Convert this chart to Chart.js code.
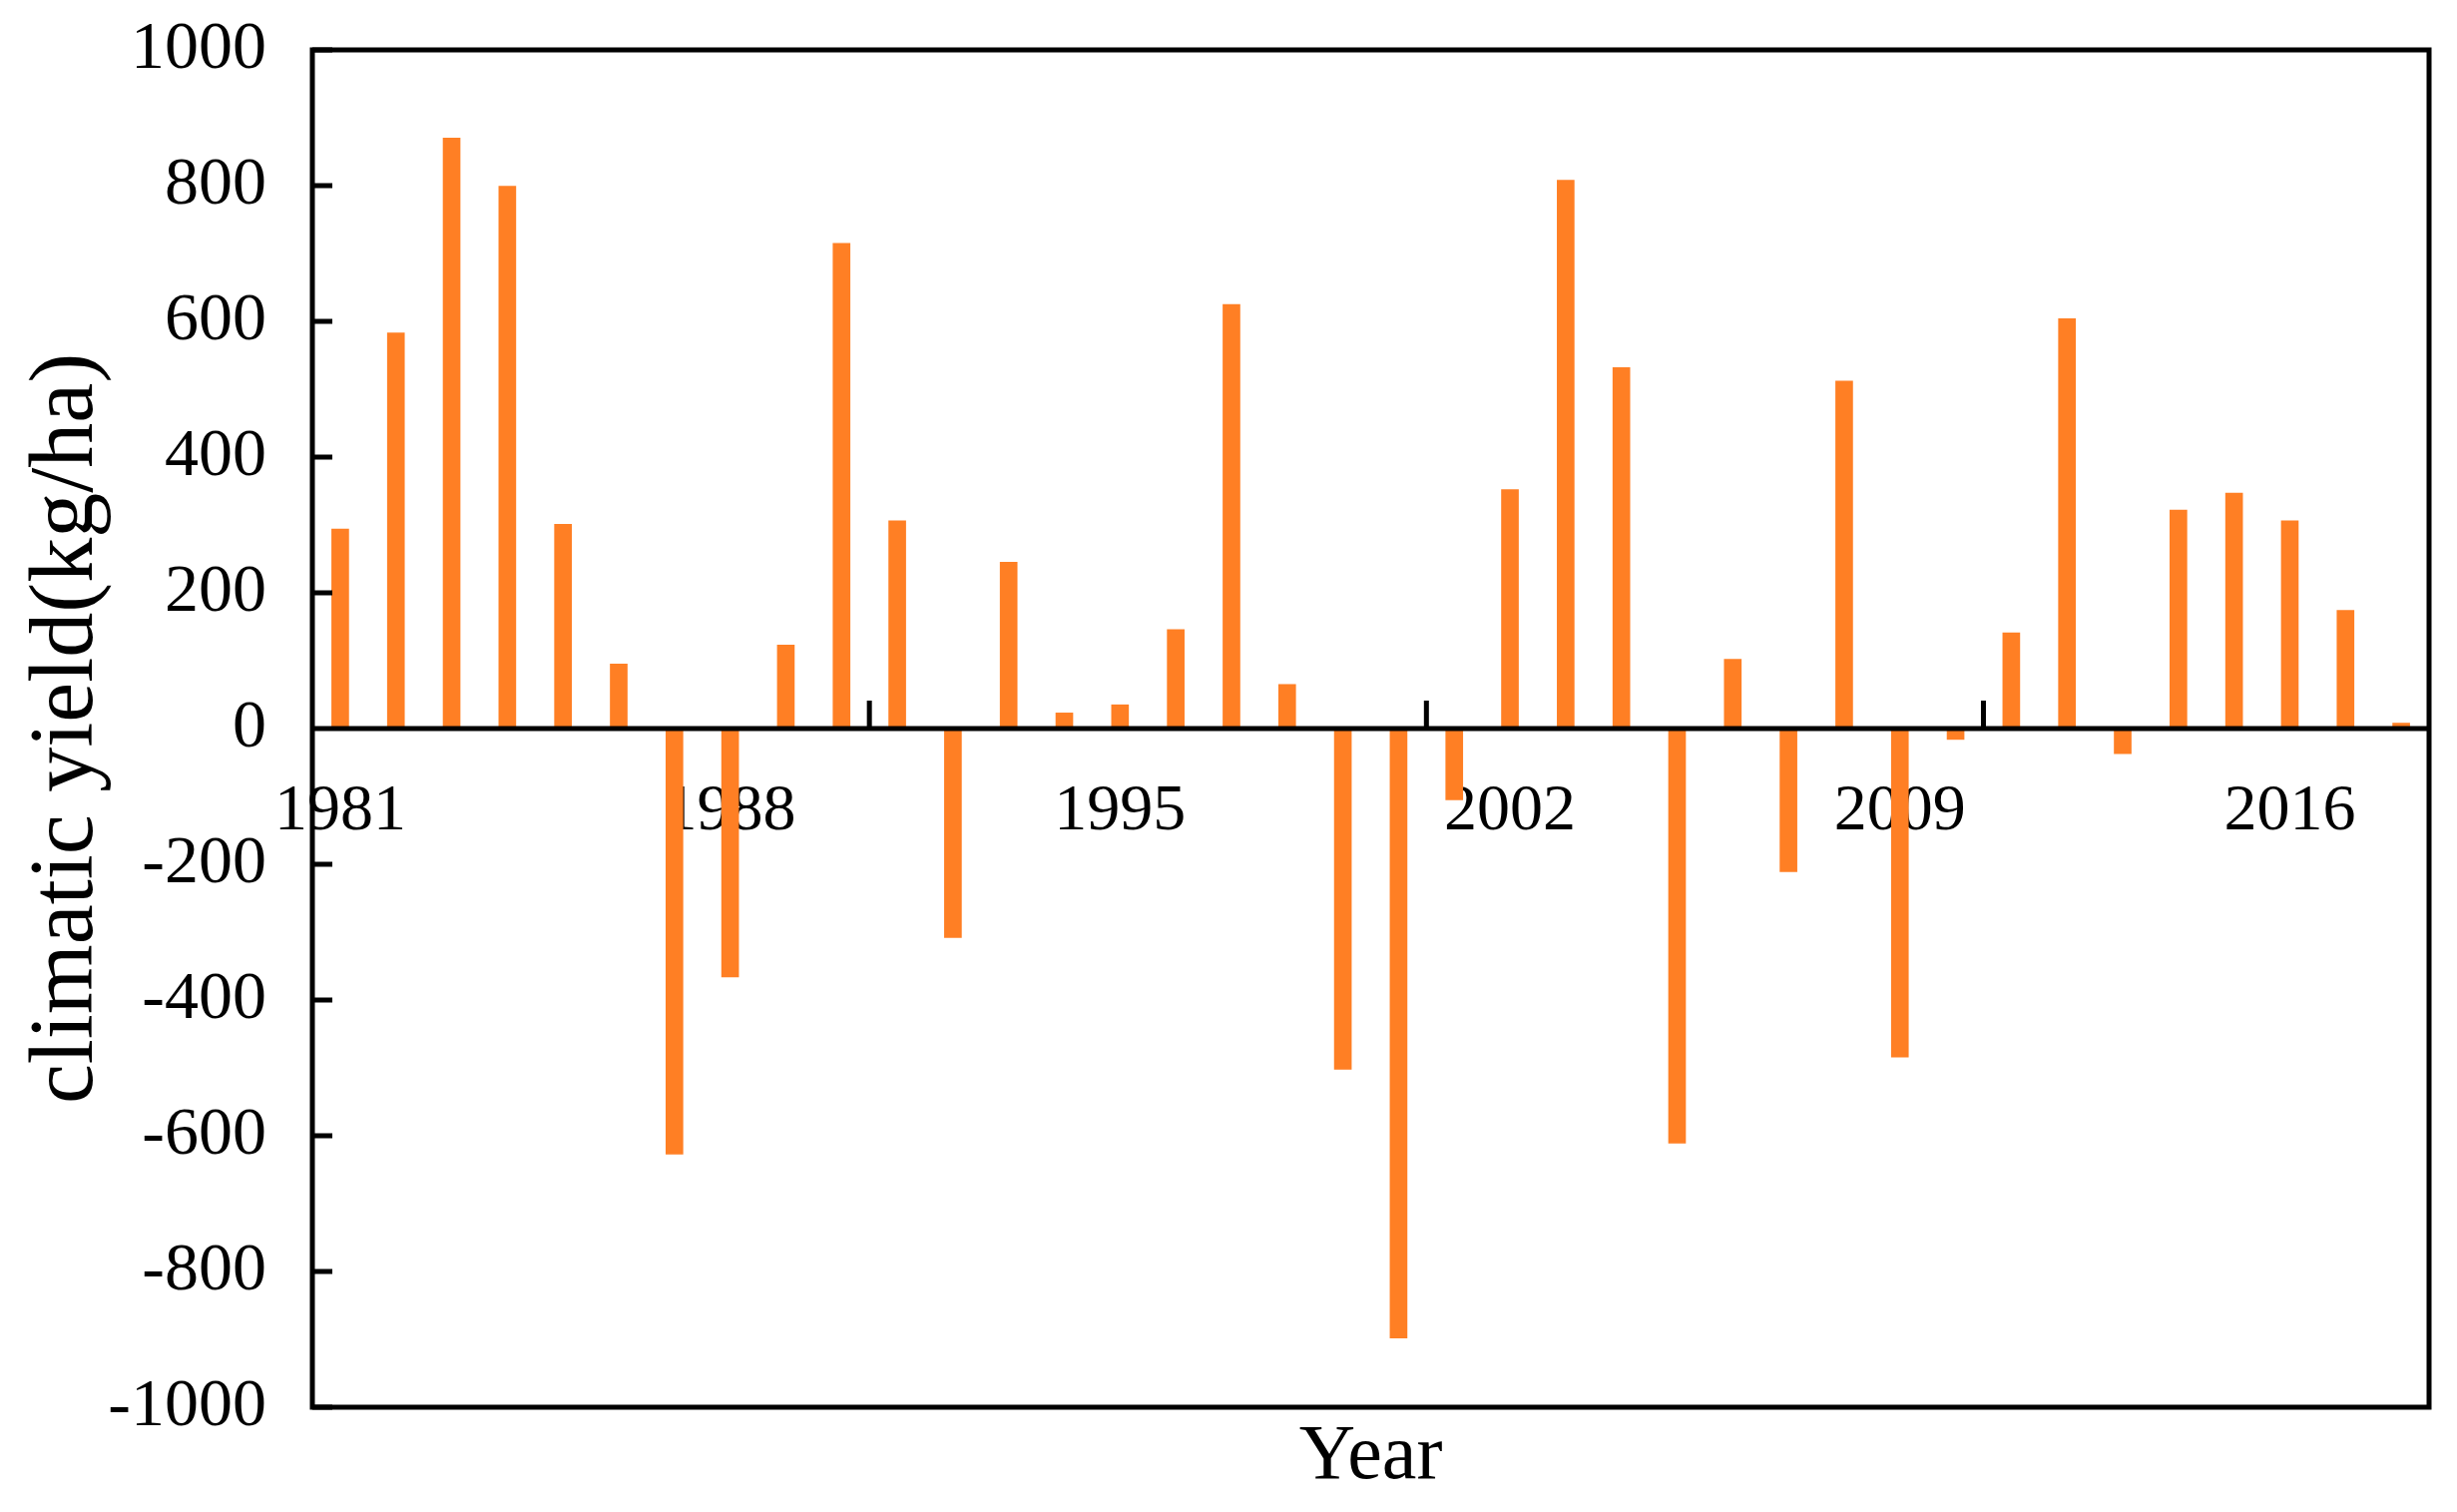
<!DOCTYPE html>
<html>
<head>
<meta charset="utf-8">
<title>Climatic yield</title>
<script src="https://cdn.jsdelivr.net/npm/chart.js@4.4.1/dist/chart.umd.min.js"></script>
<style>
    html, body { margin: 0; padding: 0; background: #fff; }
    #wrap { width: 2462px; height: 1515px; }
</style>
</head>
<body>
<div id="wrap"><canvas id="chart"></canvas></div>
<script>
    // Data
    const years = [
        '1981', '1982', '1983', '1984', '1985', '1986', '1987', '1988', '1989', '1990',
        '1991', '1992', '1993', '1994', '1995', '1996', '1997', '1998', '1999', '2000',
        '2001', '2002', '2003', '2004', '2005', '2006', '2007', '2008', '2009', '2010',
        '2011', '2012', '2013', '2014', '2015', '2016', '2017', '2018'
    ];
    const climaticYield = [
        294, 583, 870, 799, 301, 95, -627, -366, 123, 715,
        306, -308, 245, 23, 35, 146, 625, 65, -502, -898,
        -105, 352, 808, 532, -611, 102, -211, 512, -484, -16,
        141, 604, -37, 322, 347, 306, 174, 8
    ];
    const yMin = -1000;
    const yMax = 1000;
    const yStep = 200;
    const labelEvery = 7;      // a year label every 7 bars
    const tickMarkEvery = 10;  // a tick mark on the zero line every 10 bars

    const serif = '"Liberation Serif", "Times New Roman", serif';

    // frame, zero line and inward tick marks
    const frameAndTicks = {
        id: 'frameAndTicks',
        afterDatasetsDraw(chart) {
            const { ctx, chartArea: a, scales: { x, y } } = chart;
            const zero = y.getPixelForValue(0);
            ctx.save();
            ctx.strokeStyle = '#000';
            ctx.lineWidth = 5;
            ctx.strokeRect(a.left, a.top, a.right - a.left, a.bottom - a.top);
            ctx.beginPath();
            ctx.moveTo(a.left, zero);
            ctx.lineTo(a.right, zero);
            y.ticks.forEach(t => {
                const py = y.getPixelForValue(t.value);
                ctx.moveTo(a.left, py);
                ctx.lineTo(a.left + 20, py);
            });
            for (let i = tickMarkEvery; i < years.length; i += tickMarkEvery) {
                const px = (x.getPixelForValue(i - 1) + x.getPixelForValue(i)) / 2;
                ctx.moveTo(px, zero);
                ctx.lineTo(px, zero - 28);
            }
            ctx.stroke();
            ctx.restore();
        }
    };

    new Chart(document.getElementById('chart'), {
        type: 'bar',
        data: {
            labels: years,
            datasets: [{
                data: climaticYield,
                backgroundColor: '#FF7F24',
                borderWidth: 0,
                barThickness: 17
            }]
        },
        options: {
            responsive: true,
            maintainAspectRatio: false,
            animation: false,
            layout: { padding: { top: 50, right: 28, left: 0, bottom: 0 } },
            plugins: {
                legend: { display: false },
                tooltip: { enabled: false }
            },
            scales: {
                x: {
                    type: 'category',
                    position: { y: 0 },
                    offset: true,
                    z: 1,
                    grid: { display: false },
                    border: { display: false },
                    ticks: {
                        autoSkip: false,
                        maxRotation: 0,
                        padding: 36,
                        color: '#000',
                        font: { family: serif, size: 66 },
                        callback(value, index) {
                            return index % labelEvery === 0 ? this.getLabelForValue(value) : '';
                        }
                    },
                    afterFit(scale) { scale.height = 0; }
                },
                xTitle: {
                    type: 'category',
                    position: 'bottom',
                    grid: { display: false },
                    border: { display: false },
                    ticks: { display: false },
                    title: {
                        display: true,
                        text: 'Year',
                        color: '#000',
                        font: { family: serif, size: 78 },
                        padding: { top: 0, bottom: 8 }
                    },
                    afterFit(scale) { scale.height = 105; }
                },
                y: {
                    min: yMin,
                    max: yMax,
                    // tick marks are drawn by the plugin; tickLength only spaces the labels
                    grid: { display: false, drawTicks: true, tickLength: 46 },
                    border: { display: false },
                    ticks: {
                        stepSize: yStep,
                        padding: 0,
                        color: '#000',
                        font: { family: serif, size: 68 },
                        callback(value) { return String(value); }
                    },
                    title: {
                        display: true,
                        text: 'climatic yield(kg/ha)',
                        color: '#000',
                        font: { family: serif, size: 90 },
                        padding: { top: 14, bottom: 0 }
                    },
                    afterFit(scale) { scale.width = 313; }
                }
            }
        },
        plugins: [frameAndTicks]
    });
</script>
</body>
</html>
